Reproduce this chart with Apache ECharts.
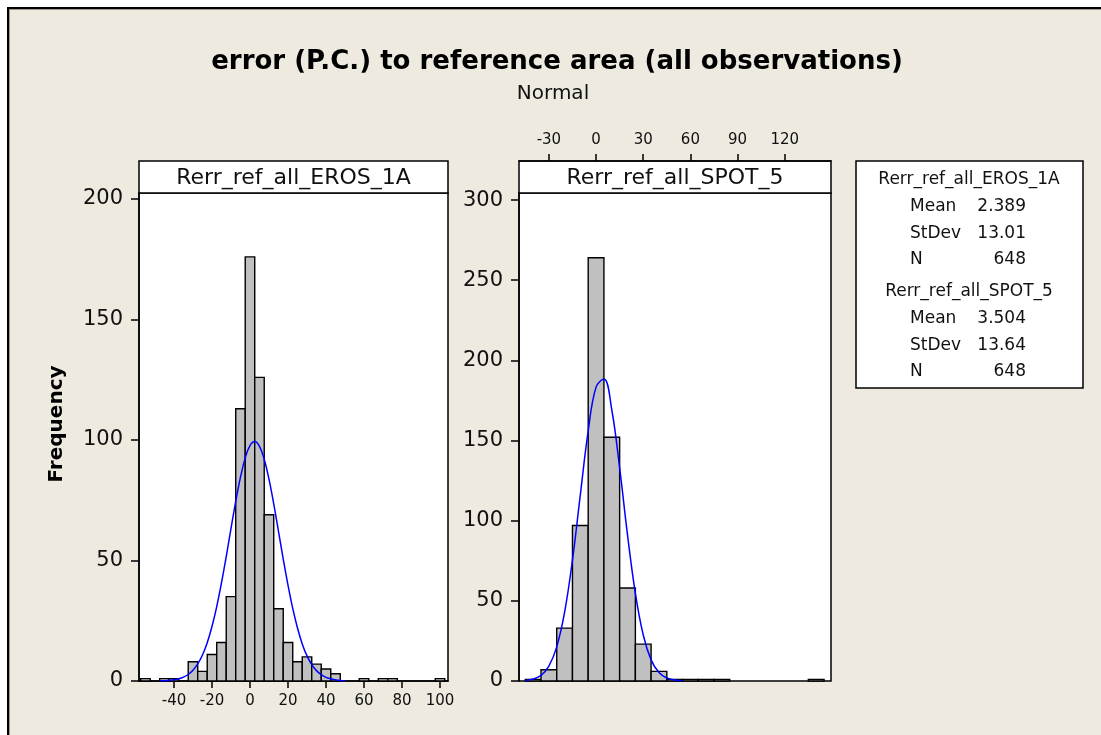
<!DOCTYPE html>
<html><head><meta charset="utf-8">
<script src="https://cdn.jsdelivr.net/npm/echarts@6/dist/echarts.min.js"></script>
<style>
html,body{margin:0;padding:0;background:#fff}
#wrap{position:relative;width:1101px;height:735px;background:#fff;overflow:hidden}
#frame{position:absolute;left:7px;top:7px;width:1200px;height:900px;background:#eeeae0;border-left:2px solid #000;border-top:2px solid #000;box-shadow:inset 1px 1px 0 #9a978f}
#c{position:absolute;left:0;top:0;width:1101px;height:735px}
</style>
</head><body><div id="wrap"><div id="frame"></div><div id="c"></div></div>
<script>
// ---- text ----
const titleText = 'error (P.C.) to reference area (all observations)';
const subTitleText = 'Normal';
const panelNames = ['Rerr_ref_all_EROS_1A', 'Rerr_ref_all_SPOT_5'];
const yAxisName = 'Frequency';
const statLabels = ['Mean', 'StDev', 'N'];
const erosStats = ['2.389', '13.01', '648'];
const spotStats = ['3.504', '13.64', '648'];

// ---- EROS_1A histogram (bin width 5) ----
const erosBinWidth = 5;
const erosBinCenters = [-55, -45, -40, -30, -25, -20, -15, -10, -5, 0, 5, 10, 15, 20, 25, 30, 35, 40, 45, 60, 70, 75, 100];
const erosCounts     = [1, 1, 1, 8, 4, 11, 16, 35, 113, 176, 126, 69, 30, 16, 8, 10, 7, 5, 3, 1, 1, 1, 1];
// fitted normal curve
const erosCurveX = [-47.5, -45, -42.5, -40, -37.5, -35, -32.5, -30, -27.5, -25, -22.5, -20, -17.5, -15, -12.5, -10, -7.5, -5, -2.5, 0, 2.5, 5, 7.5, 10, 12.5, 15, 17.5, 20, 22.5, 25, 27.5, 30, 32.5, 35, 37.5, 40, 42.5, 45, 47.5, 50];
const erosCurveY = [0.1, 0.1, 0.3, 0.5, 0.9, 1.6, 2.7, 4.5, 7.1, 10.8, 15.9, 22.6, 30.9, 40.7, 51.6, 63.2, 74.5, 84.6, 92.6, 97.7, 99.4, 97.4, 92.0, 83.8, 73.5, 62.1, 50.6, 39.8, 30.1, 22.0, 15.4, 10.4, 6.8, 4.3, 2.6, 1.5, 0.9, 0.5, 0.2, 0.1];
const erosTicksX = [-40, -20, 0, 20, 40, 60, 80, 100];
const erosTicksY = [0, 50, 100, 150, 200];

// ---- SPOT_5 histogram (bin width 10) ----
const spotBinWidth = 10;
const spotBinCenters = [-40, -30, -20, -10, 0, 10, 20, 30, 40, 50, 60, 70, 80, 140];
const spotCounts     = [1, 7, 33, 97, 264, 152, 58, 23, 6, 1, 1, 1, 1, 1];
const spotCurveX = [-45, -40, -35, -30, -25, -20, -15, -10, -5, 0, 5, 10, 15, 20, 25, 30, 35, 40, 45, 50, 55];
const spotCurveY = [0.3, 1.2, 3.5, 9.3, 21.3, 42.9, 75.5, 116.1, 156.0, 183.3, 188.4, 169.2, 132.9, 91.2, 54.7, 28.7, 13.2, 5.3, 1.9, 0.6, 0.2];
const spotTicksX = [-30, 0, 30, 60, 90, 120];
const spotTicksY = [0, 50, 100, 150, 200, 250, 300];

const FONT = 'DejaVu Sans';

function histItem(width) {
  return function (params, api) {
    const c = api.value(0), v = api.value(1);
    const p0 = api.coord([c - width / 2, v]);
    const p1 = api.coord([c + width / 2, 0]);
    return {
      type: 'rect',
      shape: { x: p0[0], y: p0[1], width: p1[0] - p0[0], height: p1[1] - p0[1] },
      style: { fill: '#c0c0c0', stroke: '#000', lineWidth: 1.4 }
    };
  };
}

function xAxisCfg(gi, min, max, ticks, pos, offset) {
  return {
    type: 'value', gridIndex: gi, min: min, max: max, position: pos, offset: offset,
    axisLine: { show: true, onZero: false, lineStyle: { color: '#000', width: 1.5 } },
    axisTick: { show: true, customValues: ticks, length: 7, lineStyle: { color: '#000', width: 1.5 } },
    axisLabel: { show: true, customValues: ticks, margin: 13, fontSize: 15, color: '#111', fontFamily: FONT },
    splitLine: { show: false }
  };
}
function yAxisCfg(gi, max, ticks) {
  return {
    type: 'value', gridIndex: gi, min: 0, max: max, position: 'left',
    axisLine: { show: true, onZero: false, lineStyle: { color: '#000', width: 1.5 } },
    axisTick: { show: true, customValues: ticks, length: 8, lineStyle: { color: '#000', width: 1.5 } },
    axisLabel: { show: true, customValues: ticks, margin: 16, fontSize: 21, color: '#111', fontFamily: FONT },
    splitLine: { show: false }
  };
}

const pairs = (xs, ys) => xs.map((x, i) => [x, ys[i]]);

const graphics = [];
// title
graphics.push({ type: 'text', x: 557, y: 62, style: { text: titleText, fill: '#000', font: 'bold 26px "' + FONT + '"', textAlign: 'center', textVerticalAlign: 'middle' } });
graphics.push({ type: 'text', x: 553, y: 94, style: { text: subTitleText, fill: '#111', font: '20px "' + FONT + '"', textAlign: 'center', textVerticalAlign: 'middle' } });
// y name
graphics.push({ type: 'text', x: 57, y: 424, rotation: Math.PI / 2, style: { text: yAxisName, fill: '#000', font: 'bold 20px "' + FONT + '"', textAlign: 'center', textVerticalAlign: 'middle' } });
// panel headers
const headers = [[139, 309], [519, 312]];
headers.forEach((h, i) => {
  graphics.push({ type: 'rect', shape: { x: h[0], y: 161, width: h[1], height: 32 }, style: { fill: '#fff', stroke: '#000', lineWidth: 1.5 } });
  graphics.push({ type: 'text', x: h[0] + h[1] / 2, y: 178, style: { text: panelNames[i], fill: '#111', font: '22px "' + FONT + '"', textAlign: 'center', textVerticalAlign: 'middle' } });
});
// stats box
graphics.push({ type: 'rect', shape: { x: 856, y: 161, width: 227, height: 227 }, style: { fill: '#fff', stroke: '#000', lineWidth: 1.5 } });
const statBlocks = [[panelNames[0], erosStats, 180], [panelNames[1], spotStats, 292]];
statBlocks.forEach(b => {
  graphics.push({ type: 'text', x: 969, y: b[2], style: { text: b[0], fill: '#111', font: '17px "' + FONT + '"', textAlign: 'center', textVerticalAlign: 'middle' } });
  statLabels.forEach((lab, j) => {
    const y = b[2] + 27 + j * 26.5;
    graphics.push({ type: 'text', x: 910, y: y, style: { text: lab, fill: '#111', font: '17px "' + FONT + '"', textAlign: 'left', textVerticalAlign: 'middle' } });
    graphics.push({ type: 'text', x: 1026, y: y, style: { text: b[1][j], fill: '#111', font: '17px "' + FONT + '"', textAlign: 'right', textVerticalAlign: 'middle' } });
  });
});

const chart = echarts.init(document.getElementById('c'), null, { renderer: 'canvas' });
chart.setOption({
  backgroundColor: 'transparent',
  animation: false,
  grid: [
    { left: 139, top: 193, width: 309, height: 488, show: true, backgroundColor: '#fff', borderColor: '#000', borderWidth: 1.5 },
    { left: 519, top: 193, width: 312, height: 488, show: true, backgroundColor: '#fff', borderColor: '#000', borderWidth: 1.5 }
  ],
  xAxis: [
    xAxisCfg(0, -58.4, 104.2, erosTicksX, 'bottom', 0),
    xAxisCfg(1, -49, 149.4, spotTicksX, 'top', 32)
  ],
  yAxis: [
    yAxisCfg(0, 202.5, erosTicksY),
    yAxisCfg(1, 304.4, spotTicksY)
  ],
  series: [
    { type: 'custom', xAxisIndex: 0, yAxisIndex: 0, renderItem: histItem(erosBinWidth), data: pairs(erosBinCenters, erosCounts), z: 2 },
    { type: 'custom', xAxisIndex: 1, yAxisIndex: 1, renderItem: histItem(spotBinWidth), data: pairs(spotBinCenters, spotCounts), z: 2 },
    { type: 'line', xAxisIndex: 0, yAxisIndex: 0, data: pairs(erosCurveX, erosCurveY), smooth: 0.4, showSymbol: false, symbol: 'none', lineStyle: { color: '#0000ff', width: 1.5 }, z: 3 },
    { type: 'line', xAxisIndex: 1, yAxisIndex: 1, data: pairs(spotCurveX, spotCurveY), smooth: 0.4, showSymbol: false, symbol: 'none', lineStyle: { color: '#0000ff', width: 1.5 }, z: 3 }
  ],
  graphic: graphics
});
</script>
</body></html>
